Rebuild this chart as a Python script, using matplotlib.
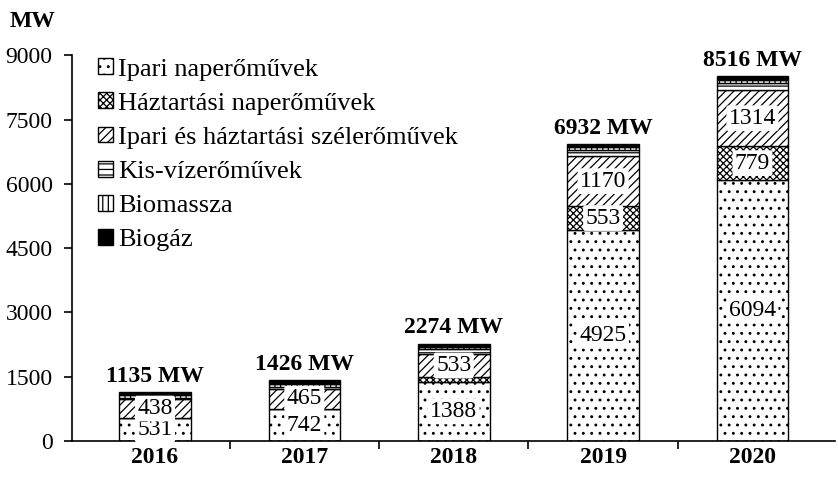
import matplotlib
matplotlib.use("Agg")
import matplotlib.pyplot as plt
import matplotlib.patches as mpatches
import numpy as np

plt.rcParams["font.family"] = ["Liberation Serif", "DejaVu Serif"]
plt.rcParams["hatch.linewidth"] = 0.9

years = ["2016", "2017", "2018", "2019", "2020"]
series_names = [
    "Ipari naperőművek",
    "Háztartási naperőművek",
    "Ipari és háztartási szélerőművek",
    "Kis-vízerőművek",
    "Biomassza",
    "Biogáz",
]
ipari_nap = [531, 742, 1388, 4925, 6094]
haztartasi_nap = [10, 15, 110, 553, 779]
szel = [438, 465, 533, 1170, 1314]
kis_viz = [30, 30, 110, 140, 160]
biomassza = [56, 74, 60, 60, 70]
biogaz = [70, 100, 73, 84, 99]
totals = [1135, 1426, 2274, 6932, 8516]

# value labels shown inside the bars (None = no label)
labelled = {
    0: [531, 742, 1388, 4925, 6094],
    1: [None, None, None, 553, 779],
    2: [438, 465, 533, 1170, 1314],
}

hatches = ["..", "xxxxx", "////", "---", "|||", ""]
faces = ["white", "white", "white", "white", "white", "black"]

fig = plt.figure(figsize=(8.38, 4.8), dpi=100)
ax = fig.add_axes([0.086, 0.081, 0.91, 0.804])

x = np.arange(len(years))
layers = [ipari_nap, haztartasi_nap, szel, kis_viz, biomassza, biogaz]
bottom = np.zeros(len(years))
handles = []
for i, vals in enumerate(layers):
    vals = np.array(vals, dtype=float)
    ax.bar(x, vals, width=0.48, bottom=bottom, color=faces[i],
           edgecolor="black", hatch=hatches[i], linewidth=1.0)
    if i in labelled:
        for j, v in enumerate(labelled[i]):
            if v is None:
                continue
            ax.text(x[j], bottom[j] + vals[j] / 2, str(v), ha="center",
                    va="center", fontsize=17,
                    bbox=dict(boxstyle="round,pad=0.1", fc="white", ec="none"))
    handles.append(mpatches.Patch(facecolor=faces[i], edgecolor="black",
                                  hatch=hatches[i], label=series_names[i]))
    bottom += vals

for j, t in enumerate(totals):
    ax.text(x[j], bottom[j] + 120, f"{t} MW", ha="center", va="bottom",
            fontsize=17, fontweight="bold")

ax.set_ylim(0, 9000)
ax.set_xlim(-0.555, 4.55)
ax.set_yticks(np.arange(0, 9001, 1500))
ax.tick_params(axis="y", labelsize=17, direction="out", length=6, width=1.2,
               pad=8)
ax.set_xticks(x)
ax.set_xticklabels(years, fontsize=17, fontweight="bold")
ax.tick_params(axis="x", length=0, pad=4)
ax.set_xticks(np.arange(0.5, 4.5, 1.0), minor=True)
ax.tick_params(axis="x", which="minor", length=6, width=1.2, direction="out")
for s in ["top", "right"]:
    ax.spines[s].set_visible(False)
ax.spines["left"].set_linewidth(1.2)
ax.spines["bottom"].set_linewidth(1.2)

fig.text(0.012, 0.955, "MW", fontsize=17, fontweight="bold", va="center")

ax.legend(handles=handles, loc="upper left", bbox_to_anchor=(0.01, 1.04),
          frameon=False, fontsize=19, handlelength=0.55, handleheight=0.55,
          handletextpad=0.2, labelspacing=0.45, borderaxespad=0.3)

fig.savefig("out.png", dpi=100)
